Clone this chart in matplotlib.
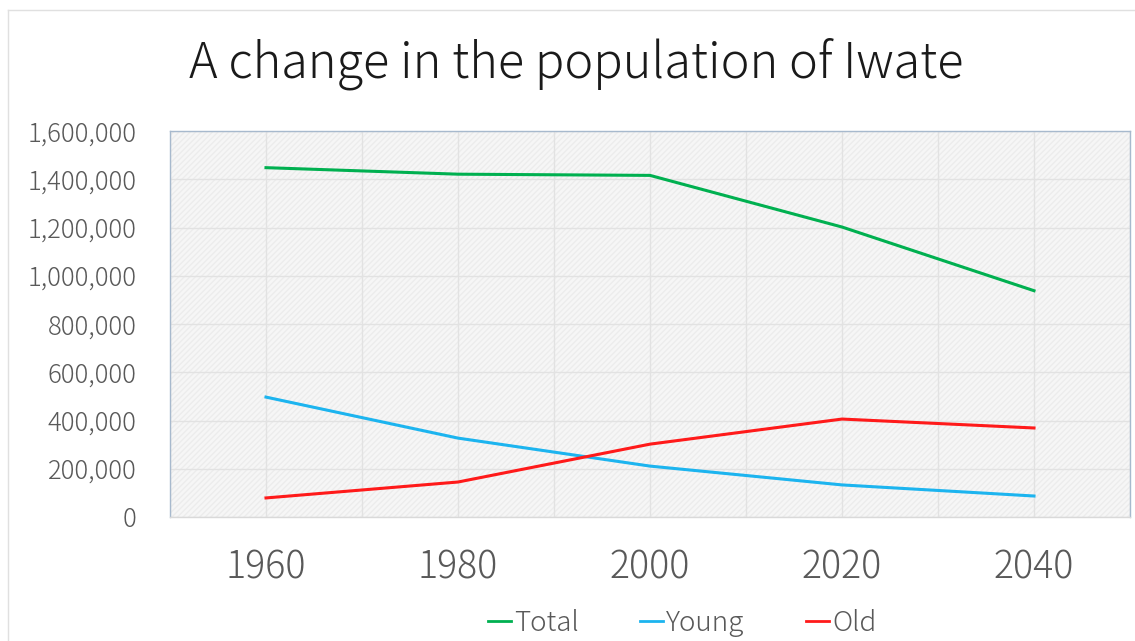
import matplotlib
matplotlib.use("Agg")
import matplotlib.pyplot as plt
from matplotlib.lines import Line2D
from matplotlib.ticker import FuncFormatter

years = [1960, 1980, 2000, 2020, 2040]
total = [1448000, 1421000, 1416000, 1202000, 938000]
young = [497000, 327000, 211000, 133000, 87000]
old = [79000, 145000, 302000, 406000, 369000]

plt.rcParams['font.family'] = ['Noto Sans CJK JP', 'DejaVu Sans']
plt.rcParams['font.weight'] = 'light'

fig = plt.figure(figsize=(11.35, 6.41), dpi=100)
ax = fig.add_axes([170 / 1135, 1 - 517 / 641, 960 / 1135, 386 / 641])

# faint outer frame of the chart object
fig.add_artist(Line2D([8 / 1135, 8 / 1135], [0, 1 - 10 / 641], color='#e0e0e0', lw=1))
fig.add_artist(Line2D([8 / 1135, 1], [1 - 10 / 641, 1 - 10 / 641], color='#e0e0e0', lw=1))

ax.set_facecolor('#f6f6f6')
ax.fill_between([1950, 2050], 0, 1600000, facecolor='none', edgecolor='#ececec',
                hatch='//////', lw=0, zorder=0)

ax.plot(years, total, color='#00b050', lw=2.2, label='Total', zorder=3)
ax.plot(years, young, color='#1cb4ef', lw=2.2, label='Young', zorder=3)
ax.plot(years, old, color='#ff1a1a', lw=2.2, label='Old', zorder=3)

ax.set_xlim(1950, 2050)
ax.set_ylim(0, 1600000)
ax.set_xticks(years)
ax.set_xticks(range(1950, 2051, 10), minor=True)
ax.set_yticks(range(0, 1600001, 200000))
ax.yaxis.set_major_formatter(FuncFormatter(lambda v, p: f'{int(v):,}'))

ax.grid(True, which='both', color='#e2e2e2', lw=1, zorder=1)
ax.set_axisbelow(True)
ax.tick_params(axis='both', which='both', length=0)
ax.tick_params(axis='y', labelsize=18.5, labelcolor='#595959', pad=24)
ax.tick_params(axis='x', labelsize=27, labelcolor='#595959', pad=22)

for side in ['left', 'top', 'right']:
    ax.spines[side].set_color('#a7b9cd')
    ax.spines[side].set_linewidth(1)
ax.spines['bottom'].set_color('#d9d9d9')
ax.spines['bottom'].set_linewidth(1)

fig.text(576 / 1135, 1 - 64 / 641, 'A change in the population of Iwate',
         ha='center', va='center', fontsize=35, color='#1a1a1a')

leg = fig.legend(loc='center', bbox_to_anchor=(682 / 1135, 1 - 623 / 641), ncol=3,
                 frameon=False, fontsize=20, handlelength=0.85, handletextpad=0.1,
                 columnspacing=2.2, labelcolor='#595959')
for line in leg.get_lines():
    line.set_linewidth(2)

fig.savefig('out.png', dpi=100, facecolor='white')
